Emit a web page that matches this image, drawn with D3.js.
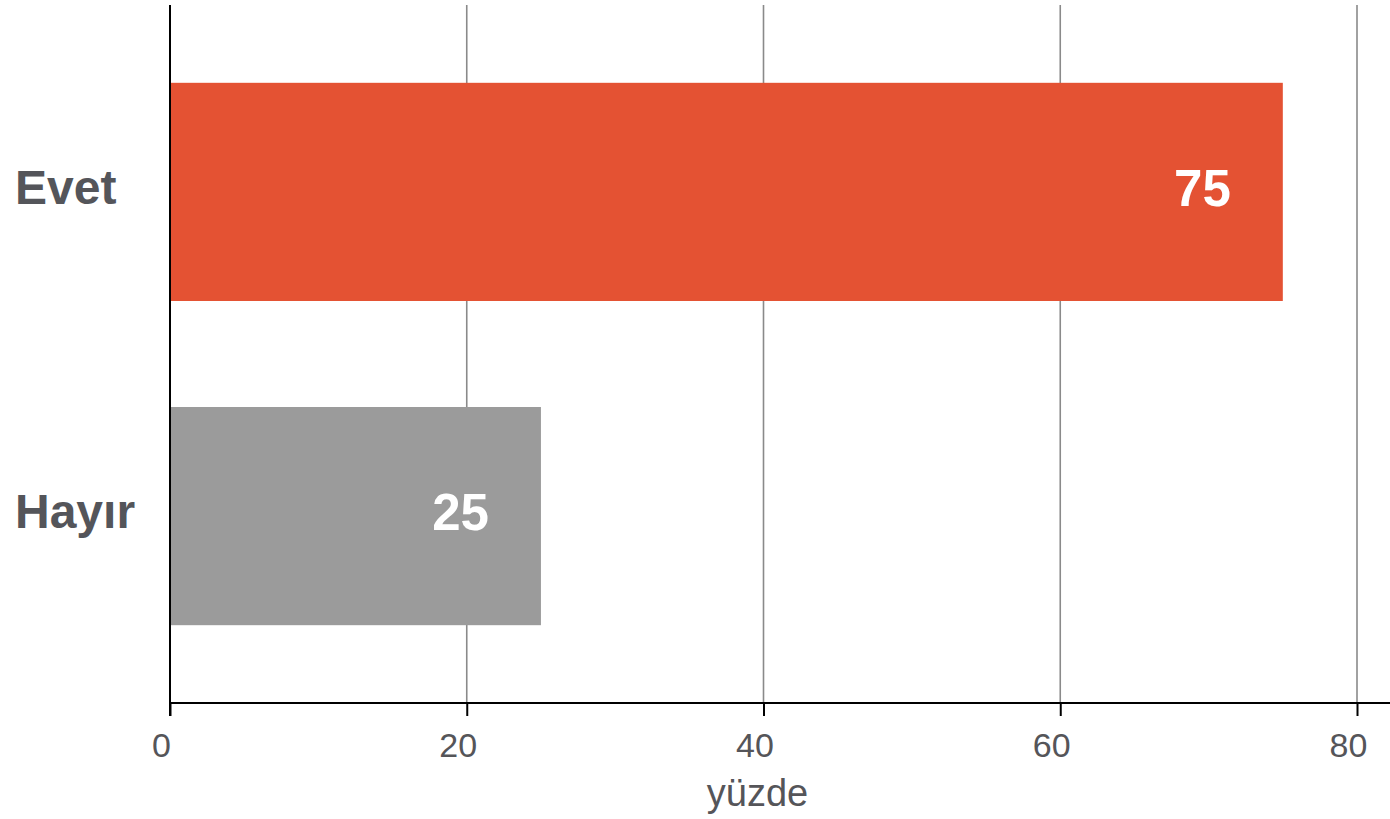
<!DOCTYPE html>
<html>
<head>
<meta charset="utf-8">
<script src="https://cdn.jsdelivr.net/npm/d3@7"></script>
<style>
  html, body { margin: 0; padding: 0; background: #ffffff; }
  svg { display: block; font-family: "Liberation Sans", Arial, Helvetica, sans-serif; }
</style>
</head>
<body>
<svg id="chart" width="1390" height="819"></svg>
<script>
// Survey answers and their share in percent
const categories = ["Evet", "Hayır"];
const values = [75, 25];
const barColors = ["#e45233", "#9b9b9b"];
const tickValues = [0, 20, 40, 60, 80];
const axisTitle = "yüzde";

const margin = { left: 170, right: 1390, top: 5, bottom: 703 };

const svg = d3.select("#chart");

const x = d3.scaleLinear().domain([0, 80]).range([margin.left, 1357]);
const y = d3.scaleBand()
  .domain(categories)
  .range([margin.top, margin.bottom])
  .paddingInner(0.327)
  .paddingOuter(0.24);

// vertical grid lines
svg.append("g")
  .selectAll("line")
  .data(tickValues.filter(d => d > 0))
  .join("line")
  .attr("x1", d => x(d)).attr("x2", d => x(d))
  .attr("y1", margin.top).attr("y2", margin.bottom)
  .attr("stroke", "#8a8a8a")
  .attr("stroke-width", 1.6);

// bars
const rows = categories.map((c, i) => ({ c, v: values[i], color: barColors[i] }));
svg.append("g")
  .selectAll("rect")
  .data(rows)
  .join("rect")
  .attr("x", x(0))
  .attr("y", d => y(d.c))
  .attr("width", d => x(d.v) - x(0))
  .attr("height", y.bandwidth())
  .attr("fill", d => d.color);

// value labels inside the bars
svg.append("g")
  .selectAll("text")
  .data(rows)
  .join("text")
  .attr("x", d => x(d.v) - 52)
  .attr("y", d => y(d.c) + y.bandwidth() / 2 + 14)
  .attr("text-anchor", "end")
  .attr("fill", "#ffffff")
  .attr("font-weight", "bold")
  .attr("font-size", 51)
  .text(d => d3.format("d")(d.v));

// category labels
svg.append("g")
  .selectAll("text")
  .data(categories)
  .join("text")
  .attr("x", 15)
  .attr("y", d => y(d) + y.bandwidth() / 2 + 12)
  .attr("fill", "#54555a")
  .attr("font-weight", "bold")
  .attr("font-size", 48)
  .text(d => d);

// bottom axis with ticks
const xAxis = d3.axisBottom(x).tickValues(tickValues).tickSize(13).tickPadding(0).tickFormat(d3.format("d"));
const gx = svg.append("g")
  .attr("transform", `translate(0,${margin.bottom})`)
  .call(xAxis);
gx.select(".domain").remove();
gx.selectAll(".tick line").attr("stroke", "#000").attr("stroke-width", 2);
gx.selectAll(".tick text")
  .attr("dy", null)
  .attr("y", 54)
  .attr("dx", -9)
  .attr("fill", "#555559")
  .attr("font-size", 34)
  .attr("font-family", "\"Liberation Sans\", Arial, sans-serif");

// axis lines
svg.append("line")
  .attr("x1", margin.left).attr("x2", margin.right)
  .attr("y1", margin.bottom).attr("y2", margin.bottom)
  .attr("stroke", "#000").attr("stroke-width", 2);
svg.append("line")
  .attr("x1", margin.left).attr("x2", margin.left)
  .attr("y1", margin.top).attr("y2", margin.bottom + 13)
  .attr("stroke", "#000").attr("stroke-width", 2);

// axis title
svg.append("text")
  .attr("x", x(40) - 6)
  .attr("y", 806)
  .attr("text-anchor", "middle")
  .attr("fill", "#555559")
  .attr("font-size", 38)
  .text(axisTitle);
</script>
</body>
</html>
